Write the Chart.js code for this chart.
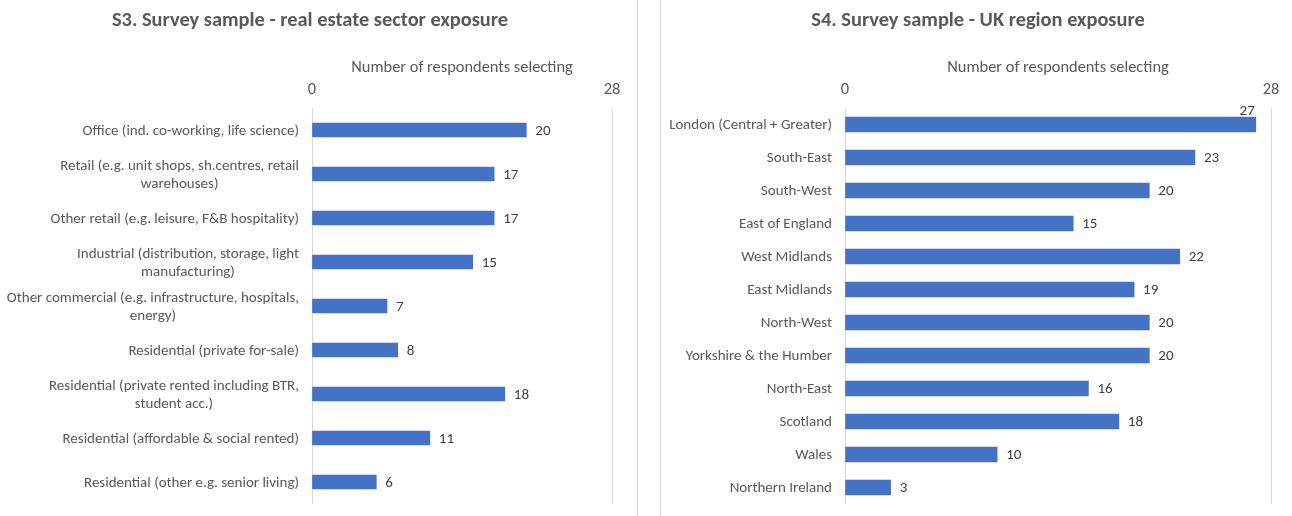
<!DOCTYPE html>
<html>
<head>
<meta charset="utf-8">
<title>Survey sample exposure</title>
<script src="https://cdn.jsdelivr.net/npm/chart.js@4.4.1/dist/chart.umd.min.js"></script>
<style>
  body { margin: 0; background: #fff; width: 1292px; height: 516px; overflow: hidden; position: relative; }
  .panel { position: absolute; top: 0; height: 516px; }
  .panel canvas { display: block; }
  #sectorPanel { left: 0; width: 637px; border-right: 1px solid #d9d9d9; }
  #regionPanel { left: 660px; width: 631px; border-left: 1px solid #d9d9d9; }
</style>
</head>
<body>
<div class="panel" id="sectorPanel"><canvas id="sectorChart" width="637" height="516"></canvas></div>
<div class="panel" id="regionPanel"><canvas id="regionChart" width="631" height="516"></canvas></div>

<script>
// S3 - real estate sector exposure
var sectorLabels = [
    'Office (ind. co-working, life science)',
    ['Retail (e.g. unit shops, sh.centres, retail', 'warehouses)'],
    'Other retail (e.g. leisure, F&B hospitality)',
    ['Industrial (distribution, storage, light', 'manufacturing)'],
    ['Other commercial (e.g. infrastructure, hospitals,', 'energy)'],
    'Residential (private for-sale)',
    ['Residential (private rented including BTR,', 'student acc.)'],
    'Residential (affordable & social rented)',
    'Residential (other e.g. senior living)'
];
var sectorCounts = [20, 17, 17, 15, 7, 8, 18, 11, 6];

// S4 - UK region exposure
var regionLabels = [
    'London (Central + Greater)', 'South-East', 'South-West', 'East of England',
    'West Midlands', 'East Midlands', 'North-West', 'Yorkshire & the Humber',
    'North-East', 'Scotland', 'Wales', 'Northern Ireland'
];
var regionCounts = [27, 23, 20, 15, 22, 19, 20, 20, 16, 18, 10, 3];

// axis shows only its two end ticks
var axisTicks = [0, 28];
var axisTitle = 'Number of respondents selecting';

var FONT = "Carlito, Calibri, 'Liberation Sans', sans-serif";
var TEXT_GREY = '#595959';
var LINE_H = 18;
var LABEL_SIZE = 15;
var AXIS_SIZE = 16.4;

Chart.defaults.font.family = FONT;

// panel heading
var panelTitle = {
    id: 'panelTitle',
    afterDraw: function(chart, args, opts) {
        var ctx = chart.ctx;
        ctx.save();
        ctx.font = 'bold 20.4px ' + FONT;
        ctx.fillStyle = TEXT_GREY;
        ctx.textAlign = 'center';
        ctx.textBaseline = 'middle';
        ctx.fillText(opts.text, opts.x, 21);
        ctx.restore();
    }
};

// category names, wrapped lines centred on each other like Excel does
var categoryLabels = {
    id: 'categoryLabels',
    afterDraw: function(chart) {
        var ctx = chart.ctx;
        var yScale = chart.scales.y;
        var right = chart.chartArea.left - 13;
        ctx.save();
        ctx.font = LABEL_SIZE + 'px ' + FONT;
        ctx.fillStyle = TEXT_GREY;
        ctx.textAlign = 'center';
        ctx.textBaseline = 'middle';
        chart.data.labels.forEach(function(label, i) {
            var lines = [].concat(label);
            var widest = Math.max.apply(null, lines.map(function(l) { return ctx.measureText(l).width; }));
            var cx = right - widest / 2;
            var y0 = yScale.getPixelForTick(i) - (lines.length - 1) * LINE_H / 2;
            lines.forEach(function(line, j) {
                ctx.fillText(line, cx, y0 + j * LINE_H + 1);
            });
        });
        ctx.restore();
    }
};

// value at the end of each bar, moved above the bar if it would run past the axis
var valueLabels = {
    id: 'valueLabels',
    afterDatasetsDraw: function(chart) {
        var ctx = chart.ctx;
        var meta = chart.getDatasetMeta(0);
        var data = chart.data.datasets[0].data;
        ctx.save();
        ctx.font = LABEL_SIZE + 'px ' + FONT;
        ctx.fillStyle = '#404040';
        ctx.textBaseline = 'middle';
        meta.data.forEach(function(bar, i) {
            var text = String(data[i]);
            var w = ctx.measureText(text).width;
            if (bar.x + 9 + w > chart.chartArea.right) {
                ctx.textAlign = 'right';
                ctx.fillText(text, bar.x - 1, bar.y - 13);
            } else {
                ctx.textAlign = 'left';
                ctx.fillText(text, bar.x + 9, bar.y + 1);
            }
        });
        ctx.restore();
    }
};

function makeChart(canvasId, labels, values, cfg) {
    var ctx = document.getElementById(canvasId).getContext('2d');
    return new Chart(ctx, {
        type: 'bar',
        data: {
            labels: labels,
            datasets: [{
                data: values,
                backgroundColor: '#4472c4',
                borderWidth: 0,
                barThickness: cfg.barThickness
            }]
        },
        options: {
            indexAxis: 'y',
            responsive: false,
            animation: false,
            layout: { padding: { left: 0, right: cfg.padRight, top: 0, bottom: 12 } },
            plugins: {
                legend: { display: false },
                tooltip: { enabled: false },
                panelTitle: { text: cfg.title, x: cfg.titleX }
            },
            scales: {
                x: {
                    position: 'top',
                    min: axisTicks[0],
                    max: axisTicks[axisTicks.length - 1],
                    afterBuildTicks: function(axis) {
                        axis.ticks = axisTicks.map(function(v) { return { value: v }; });
                    },
                    afterFit: function(scale) { scale.height = 108; },
                    border: { display: false },
                    grid: { color: '#d9d9d9', drawTicks: false },
                    ticks: { color: TEXT_GREY, font: { size: AXIS_SIZE }, padding: 8, maxRotation: 0 },
                    title: {
                        display: true,
                        text: axisTitle,
                        color: TEXT_GREY,
                        font: { size: AXIS_SIZE },
                        padding: { top: 58, bottom: 0 }
                    }
                },
                y: {
                    afterFit: function(scale) { scale.width = cfg.plotLeft; },
                    border: { display: false },
                    grid: { display: false },
                    ticks: { display: false }
                }
            }
        },
        plugins: [panelTitle, categoryLabels, valueLabels]
    });
}

window.onload = function() {
    makeChart('sectorChart', sectorLabels, sectorCounts, {
        title: 'S3. Survey sample - real estate sector exposure',
        titleX: 310,
        plotLeft: 312,
        padRight: 25,
        barThickness: 14
    });
    makeChart('regionChart', regionLabels, regionCounts, {
        title: 'S4. Survey sample - UK region exposure',
        titleX: 317,
        plotLeft: 184,
        padRight: 21,
        barThickness: 15
    });
};
</script>
</body>
</html>
